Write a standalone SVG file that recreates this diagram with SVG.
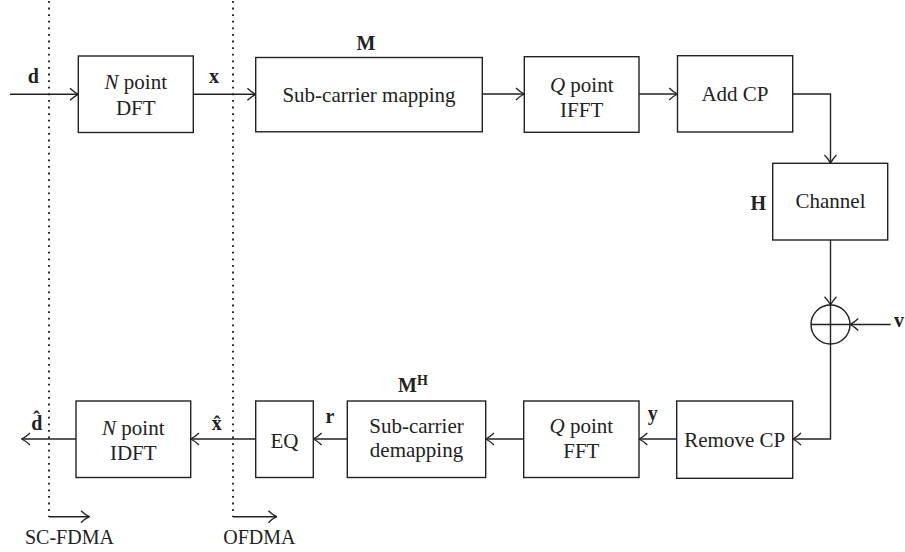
<svg xmlns="http://www.w3.org/2000/svg" width="905" height="552" viewBox="0 0 905 552">
<style>
.box{fill:#fff;stroke:#222;stroke-width:1.4}
.ln{fill:none;stroke:#222;stroke-width:1.4}
.dot{fill:none;stroke:#111;stroke-width:1.8;stroke-dasharray:1.8 4.8}
text{font-family:"Liberation Serif","DejaVu Serif",serif;fill:#222}
.t{font-size:21px;text-anchor:middle}
.b{font-size:20px;font-weight:bold;text-anchor:middle}
.s{font-size:20px}
</style>
<defs>
<marker id="ah" viewBox="0 0 10 14" refX="9.3" refY="7" markerWidth="10" markerHeight="14" markerUnits="userSpaceOnUse" orient="auto">
<path d="M1,1 Q5,5 9.3,7 Q5,9 1,13" fill="none" stroke="#222" stroke-width="1.3"/>
</marker>
</defs>
<rect width="905" height="552" fill="#fff"/>
<g id="dividers">
<line class="dot" x1="49" y1="1" x2="49" y2="517"/>
<line class="dot" x1="233" y1="1" x2="233" y2="517"/>
<line class="ln" x1="49" y1="516.7" x2="89.3" y2="516.7" marker-end="url(#ah)"/>
<line class="ln" x1="233" y1="516.7" x2="276.7" y2="516.7" marker-end="url(#ah)"/>
<text class="s" x="25" y="544">SC-FDMA</text>
<text class="s" x="223.3" y="544">OFDMA</text>
</g>
<g id="connectors">
<line class="ln" x1="10" y1="94.3" x2="78.3" y2="94.3" marker-end="url(#ah)"/>
<line class="ln" x1="193.3" y1="94.3" x2="255.7" y2="94.3" marker-end="url(#ah)"/>
<line class="ln" x1="482.3" y1="94" x2="524.3" y2="94" marker-end="url(#ah)"/>
<line class="ln" x1="639" y1="94" x2="677.5" y2="94" marker-end="url(#ah)"/>
<path class="ln" d="M792.7,94 H830.5 V163.3" marker-end="url(#ah)"/>
<line class="ln" x1="830.5" y1="240" x2="830.5" y2="305" marker-end="url(#ah)"/>
<line class="ln" x1="890.7" y1="324.5" x2="850" y2="324.5" marker-end="url(#ah)"/>
<path class="ln" d="M830.5,344 V439 H792.7" marker-end="url(#ah)"/>
<line class="ln" x1="676.7" y1="439" x2="639" y2="439" marker-end="url(#ah)"/>
<line class="ln" x1="523.7" y1="439" x2="485.7" y2="439" marker-end="url(#ah)"/>
<line class="ln" x1="347.3" y1="439" x2="313.3" y2="439" marker-end="url(#ah)"/>
<line class="ln" x1="255.7" y1="439" x2="190.7" y2="439" marker-end="url(#ah)"/>
<line class="ln" x1="76" y1="439" x2="21.7" y2="439" marker-end="url(#ah)"/>
<text class="b" x="33.3" y="83.3">d</text>
<text class="b" x="214" y="83">x</text>
<text class="b" x="366" y="50">M</text>
<text class="b" x="758.3" y="210">H</text>
<text class="b" x="899" y="326.7" text-anchor="start">v</text>
<text class="b" x="652.7" y="420">y</text>
<text class="b" x="330" y="423">r</text>
<text class="b" x="413" y="391.7">M<tspan font-size="14" dy="-7">H</tspan></text>
<text class="b" x="216.7" y="430">x̂</text>
<text class="b" x="36.7" y="430">d̂</text>
</g>
<g id="dft">
<rect class="box" x="78.3" y="56" width="115" height="76.5"/>
<text class="t" x="135.8" y="89.3"><tspan font-style="italic">N</tspan> point</text>
<text class="t" x="135.8" y="115">DFT</text>
</g>
<g id="mapping">
<rect class="box" x="255.7" y="57.5" width="226.6" height="74.3"/>
<text class="t" x="369" y="101.7">Sub-carrier mapping</text>
</g>
<g id="ifft">
<rect class="box" x="524.3" y="56.7" width="114.7" height="75.6"/>
<text class="t" x="581.7" y="91.7"><tspan font-style="italic">Q</tspan> point</text>
<text class="t" x="581.7" y="117.3">IFFT</text>
</g>
<g id="addcp">
<rect class="box" x="677.5" y="55.7" width="115.2" height="76.3"/>
<text class="t" x="735" y="101">Add CP</text>
</g>
<g id="channel">
<rect class="box" x="772.7" y="163.3" width="115" height="76.7"/>
<text class="t" x="830.5" y="208">Channel</text>
</g>
<g id="adder">
<circle class="ln" cx="830.5" cy="324.5" r="19.5"/>
<line class="ln" x1="811" y1="324.5" x2="850" y2="324.5"/>
<line class="ln" x1="830.5" y1="305" x2="830.5" y2="344"/>
</g>
<g id="removecp">
<rect class="box" x="676.7" y="401" width="116" height="77.3"/>
<text class="t" x="734.7" y="446.7">Remove CP</text>
</g>
<g id="fft">
<rect class="box" x="523.7" y="401" width="115.3" height="76.5"/>
<text class="t" x="581.3" y="432.7"><tspan font-style="italic">Q</tspan> point</text>
<text class="t" x="581.3" y="457.5">FFT</text>
</g>
<g id="demapping">
<rect class="box" x="347.3" y="401" width="138.4" height="76.5"/>
<text class="t" x="416.5" y="432.7">Sub-carrier</text>
<text class="t" x="416.5" y="456.7">demapping</text>
</g>
<g id="eq">
<rect class="box" x="255.7" y="401" width="57.6" height="76.5"/>
<text class="t" x="284.5" y="448">EQ</text>
</g>
<g id="idft">
<rect class="box" x="76" y="401" width="114.7" height="76.5"/>
<text class="t" x="133.3" y="435"><tspan font-style="italic">N</tspan> point</text>
<text class="t" x="133.3" y="460">IDFT</text>
</g>
</svg>
